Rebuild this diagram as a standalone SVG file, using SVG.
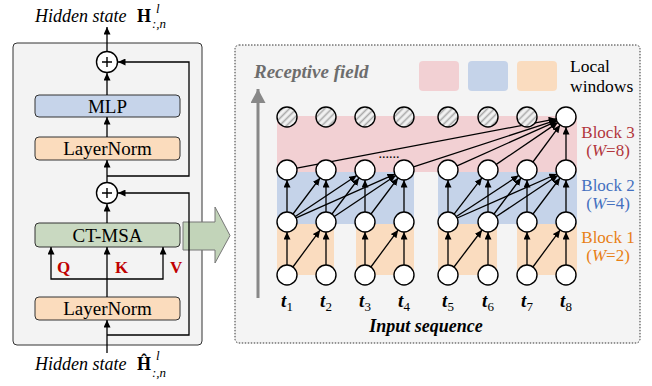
<svg xmlns="http://www.w3.org/2000/svg" width="652" height="386" viewBox="0 0 652 386">
<defs>
<marker id="ah" markerUnits="userSpaceOnUse" markerWidth="8" markerHeight="7" refX="7.5" refY="3.5" orient="auto">
<path d="M0,0 L7.5,3.5 L0,7 z" fill="#000"/>
</marker>
<marker id="ahg" markerUnits="userSpaceOnUse" markerWidth="16" markerHeight="16" refX="14" refY="7.5" orient="auto">
<path d="M0,0 L14,7.5 L0,15 z" fill="#888"/>
</marker>
<pattern id="hatch" patternUnits="userSpaceOnUse" width="5" height="5" patternTransform="rotate(45)">
<rect width="5" height="5" fill="#f2f2f2"/>
<line x1="1.5" y1="0" x2="1.5" y2="5" stroke="#a8a8a8" stroke-width="1.6"/>
</pattern>
</defs>
<style>
.serif{font-family:"Liberation Serif","Times New Roman",serif}
.box{stroke:#333;stroke-width:1}
.ln{fill:none;stroke:#000;stroke-width:1.4}
.arr{fill:none;stroke:#000;stroke-width:1.3;marker-end:url(#ah)}
.node{fill:#fff;stroke:#000;stroke-width:1.4}
.hnode{fill:url(#hatch);stroke:#000;stroke-width:1.4}
.btxt{font-size:19px;text-anchor:middle}
.qkv{font-size:17px;font-weight:bold;fill:#c00000}
.tl{font-size:19px;font-weight:bold;font-style:italic;text-anchor:middle}
.blk{font-size:17px;text-anchor:middle}
</style>

<!-- Left panel -->
<g id="encoder-panel">
<rect x="13" y="43" width="189" height="302" rx="4" fill="#f3f3f3" stroke="#333" stroke-width="1"/>
</g>

<g id="hidden-out" class="serif">
<text x="35" y="22" font-size="18" font-style="italic">Hidden state</text>
<text x="137" y="22" font-size="18" font-weight="bold">H</text>
<text x="156" y="13" font-size="13" font-style="italic">l</text>
<text x="152" y="28" font-size="13" font-style="italic">:,n</text>
</g>

<g id="plus-top">
<circle cx="107" cy="62" r="10.5" class="node"/>
<path d="M102,62 H112 M107,57 V67" class="ln" stroke-width="1.3"/>
</g>

<g id="mlp">
<rect x="35" y="95" width="145" height="22" rx="4" fill="#c6d4ea" class="box"/>
<text x="107.5" y="112.5" class="serif btxt">MLP</text>
</g>

<g id="layernorm-top">
<rect x="35" y="137" width="145" height="23" rx="4" fill="#fbdcbd" class="box"/>
<text x="107.5" y="155" class="serif btxt">LayerNorm</text>
</g>

<g id="plus-mid">
<circle cx="107" cy="193" r="10.5" class="node"/>
<path d="M102,193 H112 M107,188 V198" class="ln" stroke-width="1.3"/>
</g>

<g id="ct-msa">
<rect x="35" y="223" width="145" height="24" rx="4" fill="#c9d9c1" class="box"/>
<text x="107.5" y="242" class="serif btxt">CT-MSA</text>
</g>

<g id="layernorm-bottom">
<rect x="35" y="297" width="145" height="23" rx="4" fill="#fbdcbd" class="box"/>
<text x="107.5" y="315" class="serif btxt">LayerNorm</text>
</g>

<g id="hidden-in" class="serif">
<text x="35" y="370" font-size="18" font-style="italic">Hidden state</text>
<text x="137" y="370" font-size="18" font-weight="bold">Ĥ</text>
<text x="156" y="360" font-size="13" font-style="italic">l</text>
<text x="152" y="377" font-size="13" font-style="italic">:,n</text>
</g>

<g id="qkv-labels" class="serif">
<text x="57" y="273" class="qkv">Q</text>
<text x="115" y="273" class="qkv">K</text>
<text x="170" y="273" class="qkv">V</text>
</g>

<!-- Big arrow -->
<g id="big-arrow">
<path d="M183,222 H215 V207 L230,235.5 L215,263 V250 H183 Z" fill="#c2d4b9" stroke="#777" stroke-width="1"/>
</g>

<!-- Right panel -->
<g id="attention-panel">
<rect x="235" y="45" width="405" height="298" rx="4" fill="#f4f4f4" stroke="#333" stroke-width="1" stroke-dasharray="1.5,1.5"/>
</g>

<g id="legend">
<rect x="419" y="61" width="40" height="30" rx="4" fill="#f2d0d3"/>
<rect x="468" y="61" width="40" height="30" rx="4" fill="#c5d3e9"/>
<rect x="517" y="61" width="40" height="30" rx="4" fill="#fadcbf"/>
<text x="570" y="72" class="serif" font-size="17.5">Local</text>
<text x="570" y="92" class="serif" font-size="17.5">windows</text>
</g>

<g id="receptive-field">
<text x="254" y="78" class="serif" font-size="19" font-weight="bold" font-style="italic" fill="#6d6d6d">Receptive field</text>
<line x1="258" y1="298" x2="258" y2="89" stroke="#888" stroke-width="3" marker-end="url(#ahg)"/>
</g>

<g id="windows">
<rect x="277" y="116" width="300" height="56" fill="#f2d0d3"/>
<rect x="277" y="172" width="137" height="52" fill="#c5d3e9"/>
<rect x="438" y="172" width="139" height="52" fill="#c5d3e9"/>
<rect x="277" y="224" width="57" height="51" fill="#fadcbf"/>
<rect x="356" y="224" width="58" height="51" fill="#fadcbf"/>
<rect x="438" y="224" width="59" height="51" fill="#fadcbf"/>
<rect x="517" y="224" width="60" height="51" fill="#fadcbf"/>
</g>

<g id="block-labels" class="serif">
<text x="608" y="138" class="blk" fill="#b2363c">Block 3</text>
<text x="608" y="156" class="blk" fill="#b2363c">(<tspan font-style="italic">W</tspan>=8)</text>
<text x="608" y="191" class="blk" fill="#4470bf">Block 2</text>
<text x="608" y="209" class="blk" fill="#4470bf">(<tspan font-style="italic">W</tspan>=4)</text>
<text x="608" y="243" class="blk" fill="#e88015">Block 1</text>
<text x="608" y="261" class="blk" fill="#e88015">(<tspan font-style="italic">W</tspan>=2)</text>
</g>

<!-- Connectors -->
<g id="connectors">
<!-- left panel -->
<line x1="107" y1="51.5" x2="107" y2="27" class="arr"/>
<line x1="107" y1="95" x2="107" y2="73" class="arr"/>
<line x1="107" y1="137" x2="107" y2="117" class="arr"/>
<line x1="107" y1="182.5" x2="107" y2="160" class="arr"/>
<path d="M107,176 H189 V62 H118" class="arr"/>
<line x1="107" y1="223" x2="107" y2="204" class="arr"/>
<line x1="107" y1="297" x2="107" y2="247" class="arr"/>
<path d="M107,279 H51 V247" class="arr"/>
<path d="M107,279 H163 V247" class="arr"/>
<line x1="107" y1="353" x2="107" y2="320" class="arr"/>
<path d="M107,335 H189 V193 H118" class="arr"/>

<!-- block 1 -->
<line x1="287" y1="265" x2="287" y2="232" class="arr"/>
<line x1="326" y1="265" x2="326" y2="232" class="arr"/>
<line x1="365" y1="265" x2="365" y2="232" class="arr"/>
<line x1="404" y1="265" x2="404" y2="232" class="arr"/>
<line x1="448" y1="265" x2="448" y2="232" class="arr"/>
<line x1="488" y1="265" x2="488" y2="232" class="arr"/>
<line x1="527" y1="265" x2="527" y2="232" class="arr"/>
<line x1="566" y1="265" x2="566" y2="232" class="arr"/>
<line x1="292.9" y1="267" x2="320.1" y2="230.1" class="arr"/>
<line x1="370.9" y1="267" x2="398.1" y2="230.1" class="arr"/>
<line x1="454" y1="267" x2="482" y2="230" class="arr"/>
<line x1="532.9" y1="267" x2="560.1" y2="230.1" class="arr"/>

<!-- block 2 -->
<line x1="287" y1="212" x2="287" y2="180" class="arr"/>
<line x1="326" y1="212" x2="326" y2="180" class="arr"/>
<line x1="365" y1="212" x2="365" y2="180" class="arr"/>
<line x1="404" y1="212" x2="404" y2="180" class="arr"/>
<line x1="293" y1="214" x2="320" y2="178" class="arr"/>
<line x1="295.3" y1="216.5" x2="356.7" y2="175.5" class="arr"/>
<line x1="296.1" y1="217.9" x2="394.9" y2="174.1" class="arr"/>
<line x1="332" y1="214" x2="359" y2="178" class="arr"/>
<line x1="334.3" y1="216.5" x2="395.7" y2="175.5" class="arr"/>
<line x1="371" y1="214" x2="398" y2="178" class="arr"/>
<line x1="448" y1="212" x2="448" y2="180" class="arr"/>
<line x1="488" y1="212" x2="488" y2="180" class="arr"/>
<line x1="527" y1="212" x2="527" y2="180" class="arr"/>
<line x1="566" y1="212" x2="566" y2="180" class="arr"/>
<line x1="454.1" y1="214.1" x2="481.9" y2="177.9" class="arr"/>
<line x1="456.4" y1="216.5" x2="518.7" y2="175.5" class="arr"/>
<line x1="457.2" y1="218" x2="556.8" y2="174" class="arr"/>
<line x1="494" y1="214" x2="521" y2="178" class="arr"/>
<line x1="496.3" y1="216.5" x2="557.7" y2="175.5" class="arr"/>
<line x1="533" y1="214" x2="560" y2="178" class="arr"/>

<!-- block 3 -->
<line x1="296.8" y1="168.1" x2="556.2" y2="118.9" class="arr"/>
<line x1="413.5" y1="166.9" x2="556.5" y2="120.1" class="arr"/>
<line x1="457.1" y1="165.9" x2="556.9" y2="121.1" class="arr"/>
<line x1="496.3" y1="164.4" x2="557.7" y2="122.6" class="arr"/>
<line x1="532.9" y1="162" x2="560.1" y2="125.1" class="arr"/>
<line x1="566" y1="160" x2="566" y2="127" class="arr"/>
</g>

<text x="389" y="158" class="serif" font-size="14" text-anchor="middle">......</text>

<!-- Nodes -->
<g id="nodes-row3">
<circle cx="287" cy="117" r="10" class="hnode"/>
<circle cx="326" cy="117" r="10" class="hnode"/>
<circle cx="365" cy="117" r="10" class="hnode"/>
<circle cx="404" cy="117" r="10" class="hnode"/>
<circle cx="448" cy="117" r="10" class="hnode"/>
<circle cx="488" cy="117" r="10" class="hnode"/>
<circle cx="527" cy="117" r="10" class="hnode"/>
<circle cx="566" cy="117" r="10" class="node"/>
</g>
<g id="nodes-row2">
<circle cx="287" cy="170" r="10" class="node"/>
<circle cx="326" cy="170" r="10" class="node"/>
<circle cx="365" cy="170" r="10" class="node"/>
<circle cx="404" cy="170" r="10" class="node"/>
<circle cx="448" cy="170" r="10" class="node"/>
<circle cx="488" cy="170" r="10" class="node"/>
<circle cx="527" cy="170" r="10" class="node"/>
<circle cx="566" cy="170" r="10" class="node"/>
</g>
<g id="nodes-row1">
<circle cx="287" cy="222" r="10" class="node"/>
<circle cx="326" cy="222" r="10" class="node"/>
<circle cx="365" cy="222" r="10" class="node"/>
<circle cx="404" cy="222" r="10" class="node"/>
<circle cx="448" cy="222" r="10" class="node"/>
<circle cx="488" cy="222" r="10" class="node"/>
<circle cx="527" cy="222" r="10" class="node"/>
<circle cx="566" cy="222" r="10" class="node"/>
</g>
<g id="nodes-input">
<circle cx="287" cy="275" r="10" class="node"/>
<circle cx="326" cy="275" r="10" class="node"/>
<circle cx="365" cy="275" r="10" class="node"/>
<circle cx="404" cy="275" r="10" class="node"/>
<circle cx="448" cy="275" r="10" class="node"/>
<circle cx="488" cy="275" r="10" class="node"/>
<circle cx="527" cy="275" r="10" class="node"/>
<circle cx="566" cy="275" r="10" class="node"/>
</g>

<g id="token-labels" class="serif">
<text x="287" y="307" class="tl">t<tspan font-size="13" font-weight="normal" font-style="normal" dy="4">1</tspan></text>
<text x="326" y="307" class="tl">t<tspan font-size="13" font-weight="normal" font-style="normal" dy="4">2</tspan></text>
<text x="365" y="307" class="tl">t<tspan font-size="13" font-weight="normal" font-style="normal" dy="4">3</tspan></text>
<text x="404" y="307" class="tl">t<tspan font-size="13" font-weight="normal" font-style="normal" dy="4">4</tspan></text>
<text x="448" y="307" class="tl">t<tspan font-size="13" font-weight="normal" font-style="normal" dy="4">5</tspan></text>
<text x="488" y="307" class="tl">t<tspan font-size="13" font-weight="normal" font-style="normal" dy="4">6</tspan></text>
<text x="527" y="307" class="tl">t<tspan font-size="13" font-weight="normal" font-style="normal" dy="4">7</tspan></text>
<text x="566" y="307" class="tl">t<tspan font-size="13" font-weight="normal" font-style="normal" dy="4">8</tspan></text>
<text x="426" y="332" font-size="18" font-weight="bold" font-style="italic" text-anchor="middle">Input sequence</text>
</g>
</svg>
